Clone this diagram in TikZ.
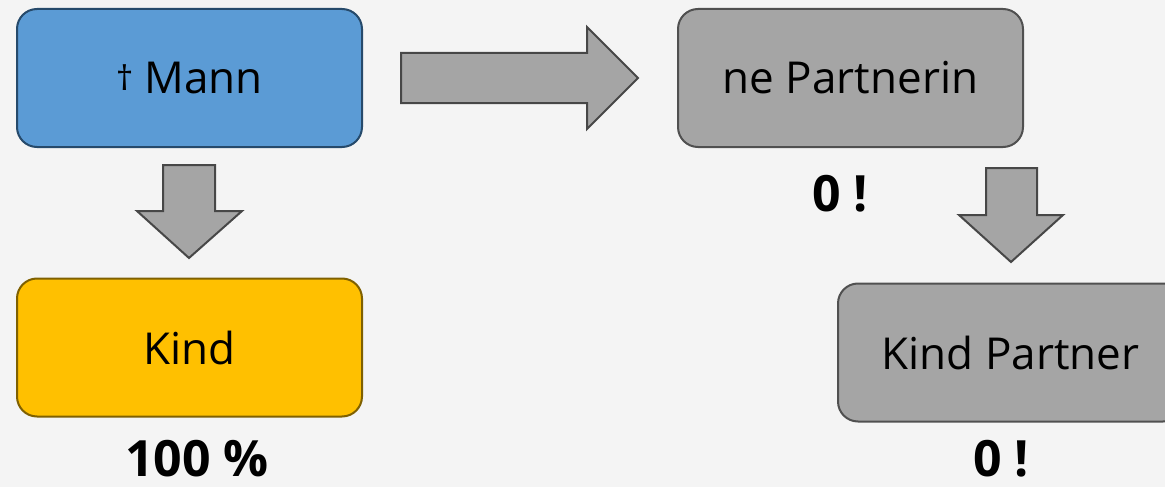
\documentclass[tikz,border=0pt]{standalone}
\usepackage{fontspec}
\setmainfont{Open Sans}
\begin{document}
\begin{tikzpicture}[x=1pt,y=-1pt,
  card/.style={rounded corners=20pt, line width=2pt, minimum width=345pt,
    minimum height=138pt, inner sep=0pt, font=\fontsize{44}{50}\selectfont},
  bluecard/.style={card, fill=cardblue, draw=cardblueline},
  goldcard/.style={card, fill=cardgold, draw=cardgoldline},
  greycard/.style={card, fill=cardgrey, draw=cardgreyline},
  blockarrow/.style={fill=cardgrey, draw=arrowline, line width=2pt, line join=miter},
  score/.style={font=\bfseries\fontsize{50}{56}\selectfont, inner sep=0pt}]
\definecolor{bg}{HTML}{F4F4F4}
\definecolor{cardblue}{HTML}{5B9BD5}
\definecolor{cardblueline}{HTML}{264A6B}
\definecolor{cardgold}{HTML}{FFC000}
\definecolor{cardgoldline}{HTML}{7F6000}
\definecolor{cardgrey}{HTML}{A5A5A5}
\definecolor{cardgreyline}{HTML}{505050}
\definecolor{arrowline}{HTML}{474747}
\fill[bg] (0,0) rectangle (1165,487);
\useasboundingbox (0,0) rectangle (1165,487);

% boxes
\node[bluecard] (mann) at (189.5,78)
  {\raisebox{3pt}{\fontsize{34}{34}\selectfont †} Mann};
\node[goldcard] (kind) at (189.5,347.5) {Kind};
\node[greycard] (partnerin) at (850.5,78) {ne Partnerin};
\node[greycard] (kindpartner) at (1010.5,352.5) {Kind Partner};

% result labels
\node[score] (s1) at (197,459) {100 \%};
\node[score] (s2) at (840,194) {0 !};
\node[score] (s3) at (1001,459) {0 !};

% block arrows
\draw[blockarrow] (401,53) -- (587,53) -- (587,27) -- (638,78) -- (587,129)
  -- (587,103) -- (401,103) -- cycle;
\draw[blockarrow] (163,165) -- (215,165) -- (215,211) -- (242,211) -- (189,258)
  -- (137,211) -- (163,211) -- cycle;
\draw[blockarrow] (986,168) -- (1037,168) -- (1037,215) -- (1063,215) -- (1011,262)
  -- (959,215) -- (986,215) -- cycle;
\end{tikzpicture}
\end{document}
